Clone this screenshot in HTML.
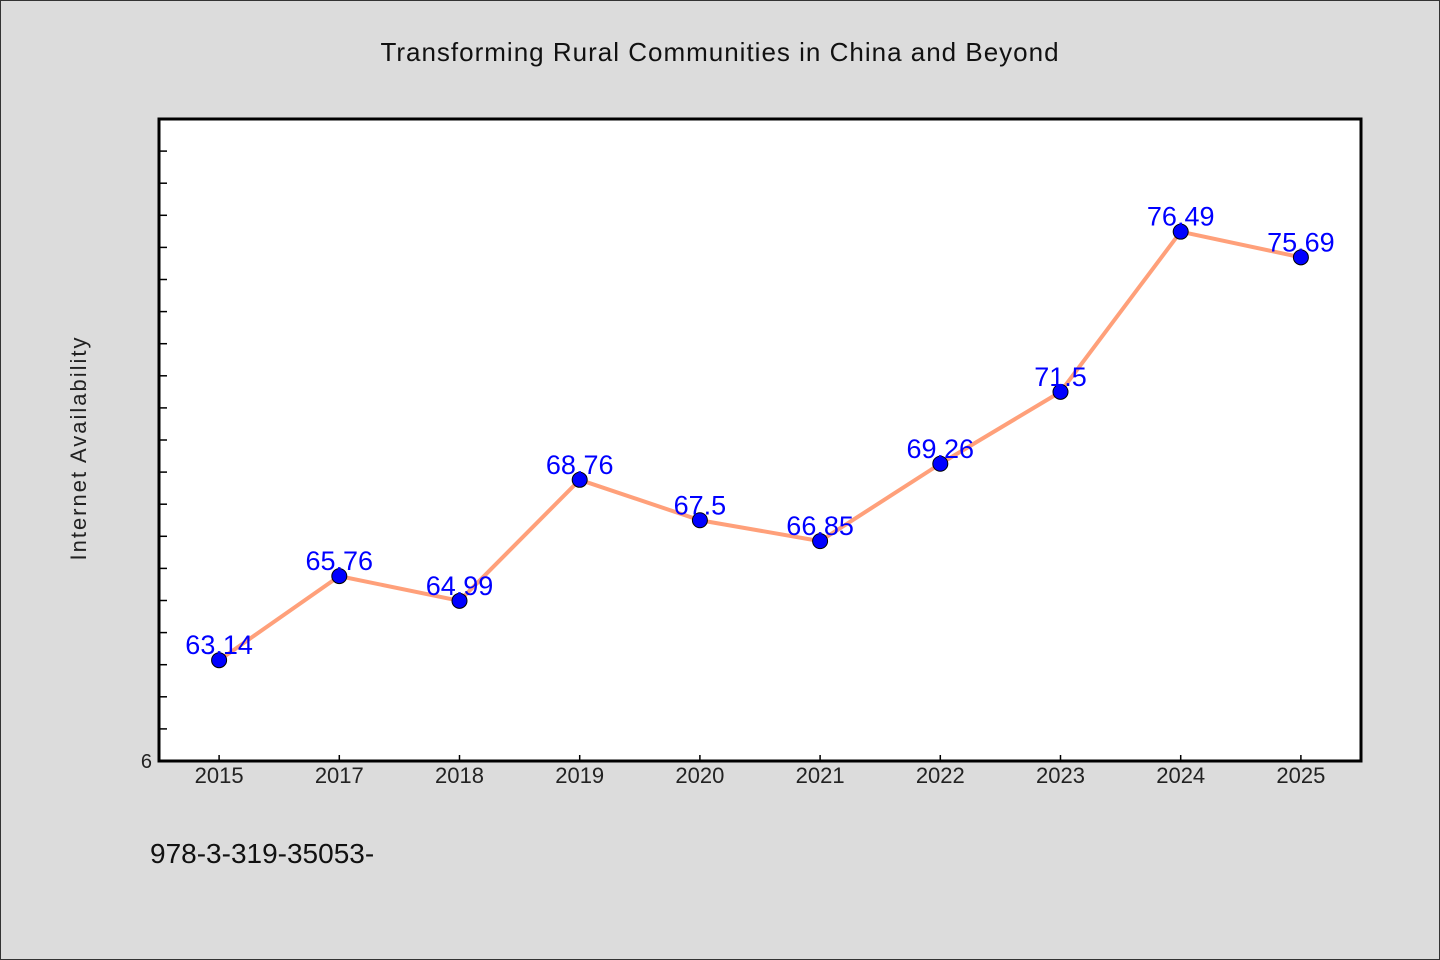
<!DOCTYPE html>
<html><head><meta charset="utf-8"><style>
html,body{margin:0;padding:0;background:#dcdcdc;}
svg{display:block;font-family:"WenQuanYi Zen Hei","Liberation Sans",sans-serif;}
</style></head><body>
<svg id="chart" width="1440" height="960" xmlns="http://www.w3.org/2000/svg">
<rect x="0.5" y="0.5" width="1439" height="959" fill="#dcdcdc" stroke="#333"/>
<text x="720" y="61" text-anchor="middle" font-size="26" fill="#111" letter-spacing="1">Transforming Rural Communities in China and Beyond</text>
<rect x="159" y="119" width="1202" height="642" fill="#fff"/>
<g id="ticks"></g>
<rect x="159" y="119" width="1202" height="642" fill="none" stroke="#000" stroke-width="3"/>
<text x="86" y="448" text-anchor="middle" font-size="22" fill="#222" letter-spacing="2" transform="rotate(-90 86 448)">Internet Availability</text>
<text x="152" y="768" text-anchor="end" font-size="20" fill="#222">6</text>
<g id="series"></g>
<text x="150" y="863" font-size="28" fill="#111">978-3-319-35053-</text>
</svg>
<script>
const categories = ["2015","2017","2018","2019","2020","2021","2022","2023","2024","2025"];
const values = [63.14,65.76,64.99,68.76,67.5,66.85,69.26,71.5,76.49,75.69];
const valueLabels = ["63.14","65.76","64.99","68.76","67.5","66.85","69.26","71.5","76.49","75.69"];
const yMin = 60, yMax = 80;
const L=159,T=119,W=1202,H=642;
const NS="http://www.w3.org/2000/svg";
function x(i){return L+W/categories.length*(i+0.5);}
function y(v){return T+H-(v-yMin)/(yMax-yMin)*H;}
function mk(tag,attrs,parent){const e=document.createElementNS(NS,tag);for(const k in attrs)e.setAttribute(k,attrs[k]);parent.appendChild(e);return e;}
const ticks=document.getElementById('ticks');
for(let v=yMin+1;v<yMax;v++){
  const t=mk('line',{x1:L,x2:L+8,y1:y(v),y2:y(v),stroke:'#000','stroke-width':1.5},ticks);
  
  
}
categories.forEach((c,i)=>{
  const t=mk('line',{x1:x(i),x2:x(i),y1:T+H,y2:T+H-6,stroke:'#000','stroke-width':1.5},ticks);
  
  
  const lb=mk('text',{x:x(i),y:783,'text-anchor':'middle','font-size':22,fill:'#222'},ticks);
  lb.textContent=c;
  
  
});
const s=document.getElementById('series');
const line=mk('polyline',{points:values.map((v,i)=>x(i)+','+y(v)).join(' '),fill:'none',stroke:'#ffa07a','stroke-width':4,'stroke-linejoin':'round'},s);


values.forEach((v,i)=>{
  const c=mk('circle',{cx:x(i),cy:y(v),r:7.5,fill:'#0000ff',stroke:'#000','stroke-width':1},s);
  
  
});
values.forEach((v,i)=>{
  const t=mk('text',{x:x(i),y:y(v)-6,'text-anchor':'middle','font-size':27,fill:'#0000ff'},s);
  t.textContent=valueLabels[i];
  
  
});
</script>
</body></html>
